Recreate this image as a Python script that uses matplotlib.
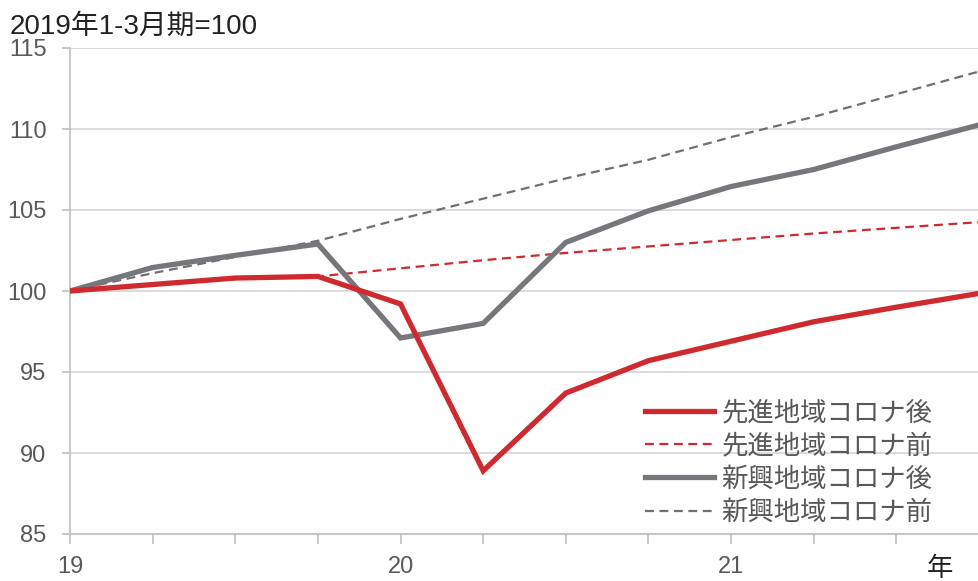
import numpy as np
import matplotlib
matplotlib.use('Agg')
import matplotlib.pyplot as plt
from matplotlib import font_manager

# quarterly index, 2019 Q1 = 100
quarters = ['19Q1', '19Q2', '19Q3', '19Q4', '20Q1', '20Q2', '20Q3', '20Q4',
            '21Q1', '21Q2', '21Q3', '21Q4']
year_labels = ['19', '', '', '', '20', '', '', '', '21', '', '', '']

adv_after = [100, 100.4, 100.8, 100.9, 99.2, 88.9, 93.7, 95.7, 96.9, 98.1, 99.0, 99.85]
adv_before = [100, 100.4, 100.8, 100.9, 101.4, 101.9, 102.35, 102.75, 103.15, 103.55, 103.9, 104.25]
emg_after = [100, 101.45, 102.2, 102.9, 97.1, 98.0, 103.0, 104.95, 106.45, 107.5, 108.9, 110.25]
emg_before = [100, 101.1, 102.1, 103.1, 104.45, 105.7, 106.95, 108.1, 109.5, 110.75, 112.15, 113.55]

labels = ['先進地域コロナ後', '先進地域コロナ前', '新興地域コロナ後', '新興地域コロナ前']

RED = '#cf2a30'
GRAY = '#76777b'
GRAY_D = '#707070'
TXT = '#595959'
AXC = '#bfbfbf'

installed = {f.name for f in font_manager.fontManager.ttflist}
narrow = 'Liberation Sans Narrow' if 'Liberation Sans Narrow' in installed else 'Liberation Sans'
num_fonts = [narrow, 'Noto Sans CJK JP']
plt.rcParams['font.family'] = num_fonts

fig = plt.figure(figsize=(9.79, 5.81), dpi=100)
ax = fig.add_axes([70 / 979, 47 / 581, 909 / 979, 486 / 581])

x = np.arange(len(quarters))

l4, = ax.plot(x, emg_before, color=GRAY_D, lw=1.6, ls=(0, (4, 2.5)), zorder=3)
l2, = ax.plot(x, adv_before, color=RED, lw=1.6, ls=(0, (4, 2.5)), zorder=3)
l3, = ax.plot(x, emg_after, color=GRAY, lw=3.8, solid_joinstyle='miter', zorder=4)
l1, = ax.plot(x, adv_after, color=RED, lw=3.8, solid_joinstyle='miter', zorder=5)

ax.set_xlim(0, 909 / 83.5)
ax.set_ylim(85, 115)
ax.set_yticks(np.arange(85, 116, 5))
ax.set_xticks(x)
ax.set_xticklabels(year_labels)

ax.grid(axis='y', color='#d9d9d9', lw=1.3)
ax.set_axisbelow(True)
for s in ['top', 'right']:
    ax.spines[s].set_visible(False)
for s in ['left', 'bottom']:
    ax.spines[s].set_color(AXC)
    ax.spines[s].set_linewidth(1.2)

ax.tick_params(axis='y', colors=AXC, labelcolor=TXT, length=6, width=1.2,
               pad=11, labelsize=17)
ax.tick_params(axis='x', colors=AXC, labelcolor=TXT, length=7, width=1.2,
               pad=9, labelsize=17)

leg = ax.legend([l1, l2, l3, l4], labels, loc='upper left',
                bbox_to_anchor=((645 - 70) / 909, (534 - 399) / 486),
                frameon=False, borderpad=0, borderaxespad=0,
                handlelength=2.6, handletextpad=0.3, labelspacing=0.24,
                prop={'family': ['Noto Sans CJK JP'], 'size': 19})
for t in leg.get_texts():
    t.set_color(TXT)

fig.text(10 / 979, (581 - 34) / 581, '2019年1-3月期=100', fontsize=20,
         color='#222222', va='baseline', ha='left', family=num_fonts)
fig.text(940 / 979, (581 - 568) / 581, '年', fontsize=19, color='#222222',
         va='center', ha='center', family=['Noto Sans CJK JP'])

plt.savefig('out.png', dpi=100)
